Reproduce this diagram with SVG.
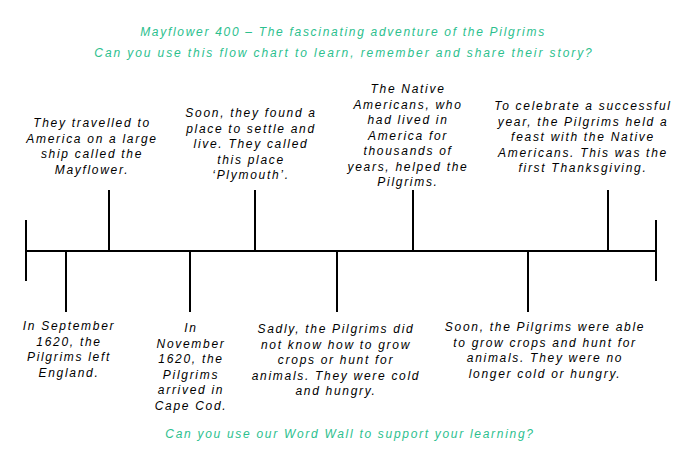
<svg xmlns="http://www.w3.org/2000/svg" width="680" height="473" viewBox="0 0 680 473">
<style>
text{font-family:"Liberation Sans","DejaVu Sans",sans-serif;font-style:italic;font-size:12px;letter-spacing:1.7px;text-anchor:middle}
.t{fill:#000}
.h{fill:#2cc08e}
.ln{stroke:#000;stroke-width:2;fill:none}
</style>
<rect width="680" height="473" fill="#fff"/>
<g id="title">
<text class="h" x="343" y="36">Mayflower 400 – The fascinating adventure of the Pilgrims</text>
<text class="h" x="344" y="57" style="letter-spacing:1.9px">Can you use this flow chart to learn, remember and share their story?</text>
</g>
<g id="connectors" class="ln">
<line x1="26" y1="251" x2="656" y2="251"/>
<line x1="26" y1="220" x2="26" y2="281"/>
<line x1="656" y1="220" x2="656" y2="281"/>
<line x1="109" y1="190" x2="109" y2="251"/>
<line x1="255" y1="190" x2="255" y2="251"/>
<line x1="413" y1="190" x2="413" y2="251"/>
<line x1="608" y1="190" x2="608" y2="251"/>
<line x1="66" y1="251" x2="66" y2="312"/>
<line x1="190" y1="251" x2="190" y2="312"/>
<line x1="337" y1="251" x2="337" y2="312"/>
<line x1="528" y1="251" x2="528" y2="312"/>
</g>
<g id="n1" class="t">
<text x="92" y="127">They travelled to</text>
<text x="92" y="142.5">America on a large</text>
<text x="92" y="158">ship called the</text>
<text x="92" y="173.5">Mayflower.</text>
</g>
<g id="n2" class="t">
<text x="251" y="117">Soon, they found a</text>
<text x="251" y="132.5">place to settle and</text>
<text x="251" y="148">live. They called</text>
<text x="251" y="163.5">this place</text>
<text x="251" y="179">‘Plymouth’.</text>
</g>
<g id="n3" class="t">
<text x="408" y="93">The Native</text>
<text x="408" y="108.5">Americans, who</text>
<text x="408" y="124">had lived in</text>
<text x="408" y="139.5">America for</text>
<text x="408" y="155">thousands of</text>
<text x="408" y="170.5">years, helped the</text>
<text x="408" y="186">Pilgrims.</text>
</g>
<g id="n4" class="t">
<text x="583" y="110">To celebrate a successful</text>
<text x="583" y="125.5">year, the Pilgrims held a</text>
<text x="583" y="141">feast with the Native</text>
<text x="583" y="156.5">Americans. This was the</text>
<text x="583" y="172">first Thanksgiving.</text>
</g>
<g id="n5" class="t">
<text x="69" y="330">In September</text>
<text x="69" y="345.5">1620, the</text>
<text x="69" y="361">Pilgrims left</text>
<text x="69" y="376.5">England.</text>
</g>
<g id="n6" class="t">
<text x="191" y="332">In</text>
<text x="191" y="347.5">November</text>
<text x="191" y="363">1620, the</text>
<text x="191" y="378.5">Pilgrims</text>
<text x="191" y="394">arrived in</text>
<text x="191" y="409.5">Cape Cod.</text>
</g>
<g id="n7" class="t">
<text x="336" y="333">Sadly, the Pilgrims did</text>
<text x="336" y="348.5">not know how to grow</text>
<text x="336" y="364">crops or hunt for</text>
<text x="336" y="379.5">animals. They were cold</text>
<text x="336" y="395">and hungry.</text>
</g>
<g id="n8" class="t">
<text x="545" y="331">Soon, the Pilgrims were able</text>
<text x="545" y="346.5">to grow crops and hunt for</text>
<text x="545" y="362">animals. They were no</text>
<text x="545" y="377.5">longer cold or hungry.</text>
</g>
<g id="footer">
<text class="h" x="350" y="438">Can you use our Word Wall to support your learning?</text>
</g>
</svg>
